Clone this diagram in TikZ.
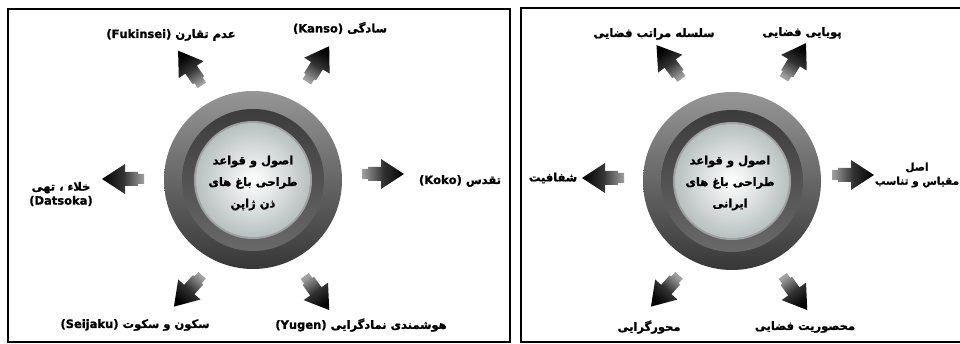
\documentclass[tikz,border=0pt]{standalone}
\usepackage{fontspec}
\newfontfamily\arabicfont[Script=Arabic,FakeBold=1.2]{DejaVu Sans}
\TeXXeTstate=1
\definecolor{ringtop}{RGB}{150,150,150}
\definecolor{ringbot}{RGB}{55,55,55}
\definecolor{bandtop}{RGB}{60,60,60}
\definecolor{bandbot}{RGB}{105,105,105}
\definecolor{rim}{RGB}{160,160,160}
\definecolor{diskout}{RGB}{184,192,192}
\definecolor{arrtail}{RGB}{160,160,160}
\tikzset{
  lbl/.style={font=\arabicfont\bfseries\fontsize{11.5}{14}\selectfont, inner sep=0pt, align=center},
  ctext/.style={font=\arabicfont\bfseries\fontsize{11.5}{21.5}\selectfont, inner sep=0pt, align=center},
  panel/.style={draw=black, line width=1.7pt},
  pics/barrow/.style={code={
    \pgfmathsetmacro\shang{#1+90}
    \begin{scope}[rotate=#1]
    \shade[top color=arrtail, bottom color=black, middle color=black!80, shading angle=\shang]
      (-21pt,-5pt) -- (-15pt,-5pt) -- (-15pt,-7pt) -- (-2pt,-7pt) -- (-2pt,-15pt)
      -- (21pt,0pt) -- (-2pt,15pt) -- (-2pt,7pt) -- (-15pt,7pt) -- (-15pt,5pt)
      -- (-21pt,5pt) -- cycle;
    \end{scope}
  }}
}
\newcommand{\ringbutton}[2]{%
  \shade[top color=ringtop, bottom color=ringbot] (#1,#2) circle (89pt);
  \shade[top color=bandtop, bottom color=bandbot] (#1,#2) circle (71pt);
  \fill[rim] (#1,#2) circle (59pt);
  \shade[inner color=white, outer color=diskout] (#1,#2) circle (57pt);
}
\begin{document}
\begin{tikzpicture}[x=1pt,y=-1pt]
\useasboundingbox (0,0) rectangle (960,344);
\fill[white] (0,0) rectangle (960,344);
% panels
\draw[panel] (8,9) rectangle (510,342);
\draw[panel] (975,8) -- (521,8) -- (521,342) -- (975,342);

% ---------- left panel ----------
\ringbutton{253}{180}
\node[ctext] (lc) at (253,183) {\beginR اصول و قواعد\endR\\ \beginR طراحی باغ های\endR\\ \beginR ذن ژاپن\endR};

\pic (a1) at (190,68) {barrow=124.5};
\pic (a2) at (318,64) {barrow=57.8};
\pic (a3) at (383,174) {barrow=0};
\pic (a4) at (123,179) {barrow=180};
\pic (a5) at (188,291) {barrow=228};
\pic (a6) at (317,293) {barrow=305.7};

\node[lbl] (l1) at (171,35) {\beginR عدم تقارن \beginL(Fukinsei)\endL\endR};
\node[lbl] (l2) at (340,28) {\beginR سادگی \beginL(Kanso)\endL\endR};
\node[lbl] (l3) at (460,181) {\beginR تقدس \beginL(Koko)\endL\endR};
\node[lbl] (l4) at (61,194) {\beginR خلاء ، تهی\endR\\ \beginL(Datsoka)\endL};
\node[lbl] (l5) at (135,325) {\beginR سکون و سکوت \beginL(Seijaku)\endL\endR};
\node[lbl] (l6) at (361,325) {\beginR هوشمندی نمادگرایی \beginL(Yugen)\endL\endR};

% ---------- right panel ----------
\ringbutton{732}{181}
\node[ctext] (rc) at (730,183) {\beginR اصول و قواعد\endR\\ \beginR طراحی باغ های\endR\\ \beginR ایرانی\endR};

\pic (b1) at (669,62) {barrow=126.6};
\pic (b2) at (795,61) {barrow=58.3};
\pic (b3) at (853,175) {barrow=0};
\pic (b4) at (603,178) {barrow=180};
\pic (b5) at (665,291) {barrow=228};
\pic (b6) at (795,293) {barrow=305.7};

\node[lbl] (r1) at (654,34) {\beginR سلسله مراتب فضایی\endR};
\node[lbl] (r2) at (802,33) {\beginR پویایی فضایی\endR};
\node[lbl, font=\arabicfont\bfseries\fontsize{10.5}{14}\selectfont] (r3) at (917,175) {\beginR اصل\endR\\ \beginR مقیاس و تناسب\endR};
\node[lbl] (r4) at (553,178) {\beginR شفافیت\endR};
\node[lbl] (r5) at (649,327) {\beginR محورگرایی\endR};
\node[lbl] (r6) at (805,327) {\beginR محصوریت فضایی\endR};
\end{tikzpicture}
\end{document}
